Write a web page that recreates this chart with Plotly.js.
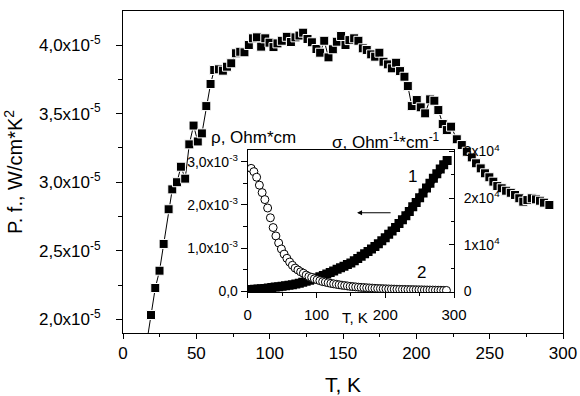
<!DOCTYPE html>
<html>
<head>
<meta charset="utf-8">
<script src="https://cdn.plot.ly/plotly-3.0.1.min.js"></script>
<style>html,body{margin:0;padding:0;background:#fff;}#chart{width:580px;height:396px;}</style>
</head>
<body>
<div id="chart"></div>
<script>
// Main curve: power factor (units of 1e-5 W/cm*K^2) vs T (K)
const mainT = [16.3,19.1,22.0,24.9,27.7,31.1,33.6,36.8,39.5,42.4,45.2,48.1,51.0,53.8,56.8,59.7,62.2,65.4,68.1,70.9,73.8,77.0,79.9,82.8,85.8,88.6,91.3,94.2,97.0,99.9,102.6,105.3,108.3,111.7,114.5,117.6,120.3,122.8,125.8,128.8,131.9,134.4,137.2,140.1,143.1,145.8,148.7,151.7,154.4,157.6,160.5,163.5,166.2,169.2,171.9,174.8,177.6,180.6,183.3,186.2,188.9,191.9,194.2,196.9,200.3,203.0,206.0,209.4,212.3,215.0,218.0,220.8,223.7,227.6,231.0,234.4,237.8,240.7,243.9,246.8,249.8,252.5,255.2,258.2,261.2,264.4,267.3,270.2,272.9,275.7,278.7,281.6,284.3,287.0,290.7];
const mainPF = [1.84,2.032,2.229,2.355,2.550,2.803,2.948,3.000,3.113,3.026,3.276,3.413,3.297,3.356,3.555,3.716,3.818,3.823,3.813,3.842,3.867,3.940,3.951,3.947,4.000,4.049,4.056,3.988,4.049,4.017,3.985,4.012,4.031,4.060,4.022,4.056,4.069,4.090,4.044,4.020,3.971,3.944,4.031,3.910,3.969,4.024,4.066,4.000,4.036,4.049,4.031,3.976,3.964,3.932,3.915,3.944,3.878,3.859,3.830,3.871,3.810,3.769,3.701,3.555,3.599,3.546,3.502,3.604,3.594,3.526,3.424,3.380,3.405,3.313,3.271,3.222,3.181,3.138,3.101,3.065,3.036,3.004,2.972,2.956,2.938,2.923,2.907,2.883,2.858,2.870,2.883,2.875,2.865,2.851,2.834];

// Inset curve 1 (filled squares, left axis, units 1e-3)
const insetT1 = [0,5,10,15,20,25,30,35,40,45,50,55,60,65,70,75,80,85,90,95,100,105,110,115,120,125,130,135,140,145,150,155,160,165,170,175,180,185,190,195,200,205,210,215,220,225,230,235,240,245,250,255,260,265,270,275,280,285,290];
const insetV1 = [0.04,0.045,0.05,0.055,0.06,0.07,0.08,0.09,0.10,0.11,0.12,0.13,0.14,0.155,0.17,0.19,0.21,0.235,0.26,0.285,0.31,0.34,0.37,0.405,0.44,0.475,0.51,0.545,0.58,0.62,0.66,0.71,0.76,0.815,0.87,0.925,0.98,1.04,1.10,1.17,1.24,1.32,1.40,1.48,1.57,1.66,1.75,1.85,1.96,2.06,2.17,2.28,2.39,2.50,2.62,2.72,2.83,2.93,3.03];

// Inset curve 2 (open circles, right axis, units 1e4)
const insetT2 = [5,9,13,17,21,25,29,33,37,41,45,49,53,57,61,65,69,73,77,81,85,89,93,97,101,105,109,113,117,121,125,129,133,137,141,145,149,153,157,161,165,169,173,177,181,185,189,193,197,201,205,209,213,217,221,225,229,233,237,241,245,249,253,257,261,265,269,273,277,281,285,289];
const insetV2 = [2.64,2.57,2.45,2.28,2.12,1.97,1.79,1.58,1.37,1.19,1.04,0.91,0.80,0.71,0.63,0.56,0.50,0.46,0.42,0.39,0.35,0.32,0.30,0.27,0.25,0.23,0.21,0.20,0.185,0.172,0.162,0.152,0.142,0.133,0.125,0.117,0.108,0.102,0.097,0.091,0.086,0.082,0.078,0.074,0.070,0.066,0.063,0.060,0.057,0.055,0.052,0.050,0.048,0.046,0.044,0.042,0.041,0.039,0.038,0.037,0.035,0.034,0.033,0.031,0.030,0.029,0.028,0.026,0.025,0.024,0.022,0.021];

// Tick labels
const mainYTickVals = [2.0,2.5,3.0,3.5,4.0];
const mainYTickText = ['2,0x10<sup>-5</sup>','2,5x10<sup>-5</sup>','3,0x10<sup>-5</sup>','3,5x10<sup>-5</sup>','4,0x10<sup>-5</sup>'];
const insetLTickVals = [0,1,2,3];
const insetLTickText = ['0,0','1,0x10<sup>-3</sup>','2,0x10<sup>-3</sup>','3,0x10<sup>-3</sup>'];
const insetRTickVals = [0,1,2,3];
const insetRTickText = ['0','1x10<sup>4</sup>','2x10<sup>4</sup>','3x10<sup>4</sup>'];

const FONT = 'Arial, "Liberation Sans", sans-serif';

const traces = [
  {x: mainT, y: mainPF, xaxis:'x', yaxis:'y', type:'scatter', mode:'lines+markers',
   line:{color:'#000', width:1},
   marker:{symbol:'square', size:9, color:'#000', line:{color:'#fff', width:1}}},
  {x: insetT1, y: insetV1, xaxis:'x2', yaxis:'y2', type:'scatter', mode:'lines+markers',
   line:{color:'#000', width:7},
   marker:{symbol:'square', size:9, color:'#000', line:{width:0}}},
  {x: insetT2, y: insetV2, xaxis:'x2', yaxis:'y3', type:'scatter', mode:'markers',
   marker:{symbol:'circle', size:8, color:'#fff', line:{color:'#000', width:1}}}
];

const layout = {
  width:580, height:396,
  margin:{l:123, r:17, t:11, b:63},
  paper_bgcolor:'#fff', plot_bgcolor:'rgba(0,0,0,0)',
  showlegend:false,
  font:{family:FONT, color:'#000'},
  xaxis:{domain:[0,1], range:[0,300], tickvals:[0,50,100,150,200,250,300],
    ticks:'outside', ticklen:5, tickwidth:1, tickcolor:'#000',
    minor:{tickvals:[25,75,125,175,225,275], ticks:'outside', ticklen:3, tickcolor:'#000'},
    showline:true, linecolor:'#000', linewidth:1, mirror:true, showgrid:false, zeroline:false,
    tickfont:{size:17, family:FONT},
    title:{text:'T, K', font:{size:21, family:FONT}, standoff:18}},
  yaxis:{domain:[0,1], range:[1.901,4.248], tickmode:'array', tickvals:mainYTickVals, ticktext:mainYTickText,
    ticks:'outside', ticklen:6, tickwidth:1, tickcolor:'#000',
    minor:{tickvals:[2.25,2.75,3.25,3.75], ticks:'outside', ticklen:4, tickcolor:'#000'},
    showline:true, linecolor:'#000', linewidth:1, mirror:true, showgrid:false, zeroline:false,
    tickfont:{size:17, family:FONT}, ticklabelstandoff:12,
    title:{text:'P. f., W/cm*K<sup>2</sup>', font:{size:20, family:FONT}, standoff:10}},
  xaxis2:{domain:[0.2834,0.7523], anchor:'y2', range:[0,300], tickvals:[0,100,200,300],
    ticks:'outside', ticklen:5, tickwidth:1, tickcolor:'#000',
    minor:{tickvals:[50,150,250], ticks:'outside', ticklen:3, tickcolor:'#000'},
    showline:true, linecolor:'#000', linewidth:1, mirror:true, showgrid:false, zeroline:false,
    tickfont:{size:15, family:FONT}, ticklabelstandoff:4},
  yaxis2:{domain:[0.1273,0.5683], anchor:'x2', range:[-0.014,3.272], tickmode:'array',
    tickvals:insetLTickVals, ticktext:insetLTickText,
    ticks:'outside', ticklen:6, tickwidth:1, tickcolor:'#000',
    minor:{tickvals:[0.5,1.5,2.5], ticks:'outside', ticklen:4, tickcolor:'#000'},
    showline:true, linecolor:'#000', linewidth:1, showgrid:false, zeroline:false,
    tickfont:{size:14, family:FONT}},
  yaxis3:{overlaying:'y2', anchor:'x2', side:'right', range:[-0.013,3.034], tickmode:'array',
    tickvals:insetRTickVals, ticktext:insetRTickText,
    ticks:'inside', ticklen:5, tickwidth:1, tickcolor:'#000',
    minor:{tickvals:[0.5,1.5,2.5], ticks:'inside', ticklen:3, tickcolor:'#000'},
    showline:true, linecolor:'#000', linewidth:1, showgrid:false, zeroline:false,
    tickfont:{size:14, family:FONT}, ticklabelstandoff:6},
  annotations:[
    {xref:'paper', yref:'paper', x:0.2977, y:0.6056, xanchor:'center', yanchor:'middle',
     text:'ρ, Ohm*cm', showarrow:false, font:{size:17, family:FONT}},
    {xref:'paper', yref:'paper', x:0.4705, y:0.5963, xanchor:'left', yanchor:'middle',
     text:'σ, Ohm<sup>-1</sup>*cm<sup>-1</sup>', showarrow:false, font:{size:17, family:FONT}},
    {xref:'paper', yref:'paper', x:0.527, y:0.0466, xanchor:'center', yanchor:'middle',
     text:'T, K', showarrow:false, font:{size:15, family:FONT}},
    {xref:'x2', yref:'y2', x:240, y:2.67, xanchor:'center', yanchor:'middle',
     text:'1', showarrow:false, font:{size:17, family:FONT}},
    {xref:'x2', yref:'y2', x:253, y:0.43, xanchor:'center', yanchor:'middle',
     text:'2', showarrow:false, font:{size:17, family:FONT}},
    {xref:'x2', yref:'y2', x:159, y:1.82, axref:'x2', ayref:'y2', ax:210, ay:1.82,
     text:'', showarrow:true, arrowhead:2, arrowsize:1, arrowwidth:1, arrowcolor:'#000'}
  ]
};

Plotly.newPlot('chart', traces, layout, {staticPlot:true, displayModeBar:false});
</script>
</body>
</html>
